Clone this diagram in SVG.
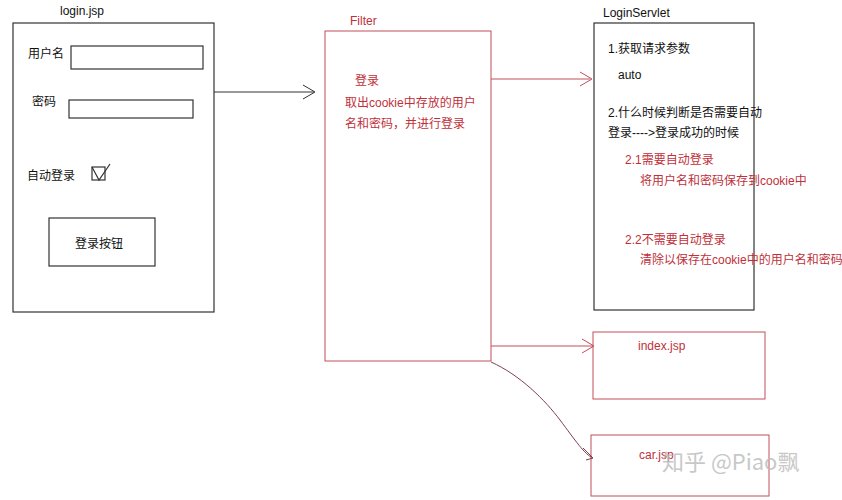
<svg xmlns="http://www.w3.org/2000/svg" width="842" height="500" viewBox="0 0 842 500">
<defs><style>
.b{fill:none;stroke:#333;stroke-width:1.2}
.r{fill:none;stroke:#c0505a;stroke-width:1}
.t{font-family:"Liberation Sans","Noto Sans CJK SC",sans-serif;font-size:12px;fill:#111}
.tr{font-family:"Liberation Sans","Noto Sans CJK SC",sans-serif;font-size:12px;fill:#c0303a}
.c{fill:none;stroke-width:1}
</style></defs>
<rect width="842" height="500" fill="#fff"/>
<g id="login">
<text class="t" x="60" y="15">login.jsp</text>
<rect class="b" x="13" y="23" width="201" height="289"/>
<text class="t" x="28" y="58">用户名</text>
<rect class="b" x="71" y="46" width="132" height="23"/>
<text class="t" x="32" y="106">密码</text>
<rect class="b" x="69" y="100" width="124" height="18"/>
<text class="t" x="27" y="180">自动登录</text>
<rect class="b" x="92" y="167" width="13" height="13"/>
<path class="b" d="M92 167 L99 180 L110 164"/>
<rect class="b" x="49" y="218" width="106" height="48"/>
<text class="t" x="75" y="248">登录按钮</text>
</g>
<g id="filter">
<text class="tr" x="350" y="25">Filter</text>
<rect class="r" x="325" y="31" width="166" height="330"/>
<text class="tr" x="355" y="85">登录</text>
<text class="tr" x="345" y="107">取出cookie中存放的用户</text>
<text class="tr" x="345" y="128">名和密码，并进行登录</text>
</g>
<g id="servlet">
<text class="t" x="603" y="17">LoginServlet</text>
<rect class="b" x="594" y="23" width="160" height="287"/>
<text class="t" x="608" y="53">1.获取请求参数</text>
<text class="t" x="618" y="79">auto</text>
<text class="t" x="608" y="117">2.什么时候判断是否需要自动</text>
<text class="t" x="608" y="137">登录----&gt;登录成功的时候</text>
<text class="tr" x="625" y="164">2.1需要自动登录</text>
<text class="tr" x="640" y="185">将用户名和密码保存到cookie中</text>
<text class="tr" x="625" y="244">2.2不需要自动登录</text>
<text class="tr" x="640" y="264">清除以保存在cookie中的用户名和密码</text>
</g>
<g id="index">
<rect class="r" x="593" y="332" width="172" height="67"/>
<text class="tr" x="638" y="350">index.jsp</text>
</g>
<g id="car">
<rect class="r" x="591" y="435" width="178" height="61"/>
<text class="tr" x="639" y="459">car.jsp</text>
</g>
<g id="connectors">
<path class="c" stroke="#333" d="M214 92 H314 M303 85 L315 92 L303 99"/>
<path class="c" stroke="#c0505a" d="M491 79 H590 M580 72 L592 79 L580 86"/>
<path class="c" stroke="#c0505a" d="M491 346 H593 M582 339 L594 346 L582 353"/>
<path class="c" stroke="#804050" d="M491 362 C520 375 545 400 560 420 C575 440 585 455 593 458 M583 448 L593 458 L586 460"/>
</g>
<text x="662" y="470" font-family="'Noto Sans CJK SC',sans-serif" font-size="22" fill="#bbb" opacity="0.8">知乎 @Piao飘</text>
</svg>
